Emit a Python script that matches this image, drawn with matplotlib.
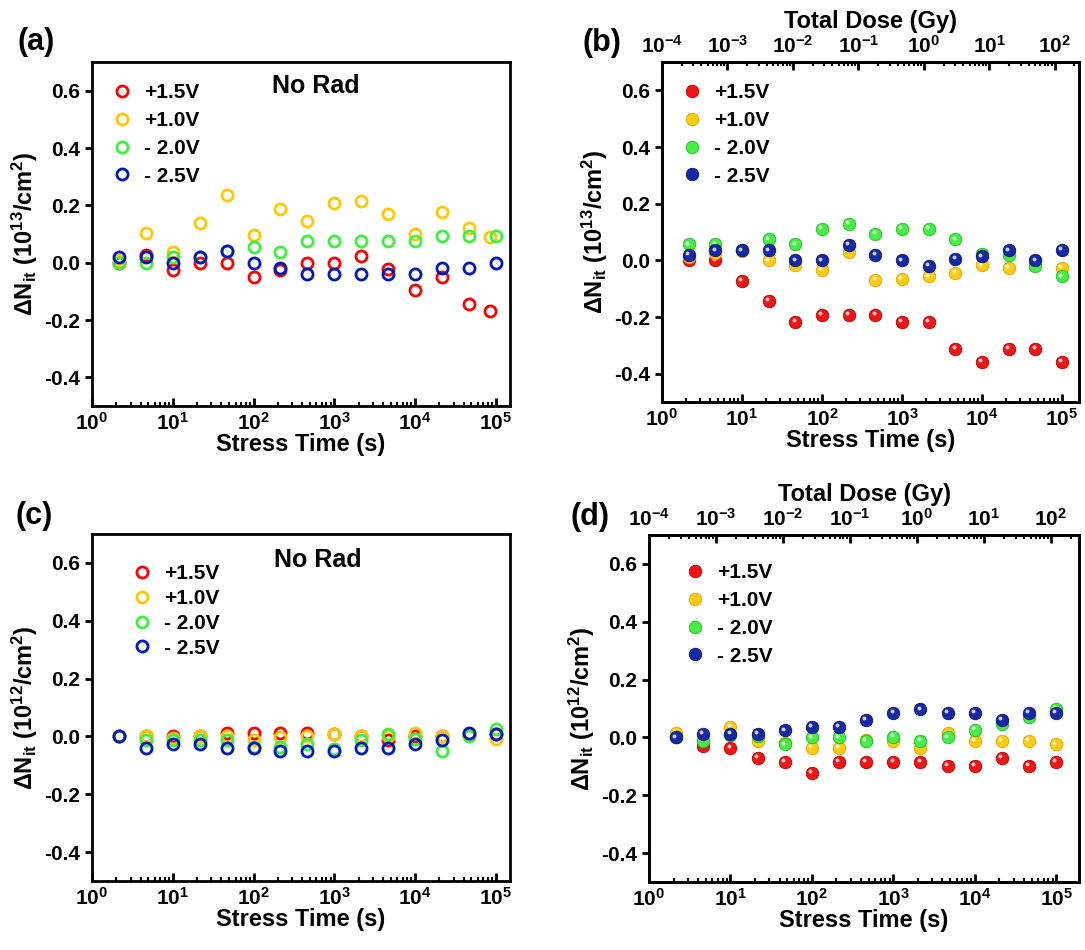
import matplotlib
matplotlib.use("Agg")
import matplotlib.pyplot as plt
from matplotlib.transforms import ScaledTranslation

plt.rcParams['font.family'] = ['Liberation Sans', 'DejaVu Sans']
plt.rcParams['font.weight'] = 'bold'
plt.rcParams['axes.unicode_minus'] = False
plt.rcParams['mathtext.fontset'] = 'custom'
plt.rcParams['mathtext.rm'] = 'Liberation Sans:bold'
plt.rcParams['mathtext.bf'] = 'Liberation Sans:bold'
plt.rcParams['mathtext.it'] = 'Liberation Sans:bold:italic'
plt.rcParams['mathtext.default'] = 'regular'

# stress times (s)
t = [2.15, 4.64, 10, 21.5, 46.4, 100, 215, 464, 1000, 2150, 4640, 10000, 21500, 46400, 100000]
# in (a) the +1.5V / +1.0V last reading was taken a bit earlier
t_a_pos = [2.15, 4.64, 10, 21.5, 46.4, 100, 215, 464, 1000, 2150, 4640, 10000, 21500, 46400, 85000]

labels = ['+1.5V', '+1.0V', '- 2.0V', '- 2.5V']

# (a) no rad, 1e13/cm2
a_p15 = [0.0, 0.026, -0.026, 0.0, 0.0, -0.049, -0.026, 0.0, 0.0, 0.023, -0.021, -0.095, -0.049, -0.144, -0.167]
a_p10 = [0.01, 0.102, 0.037, 0.137, 0.237, 0.095, 0.186, 0.145, 0.209, 0.216, 0.169, 0.1, 0.178, 0.12, 0.088]
a_m20 = [0.0, 0.0, 0.021, 0.019, 0.04, 0.056, 0.037, 0.074, 0.074, 0.074, 0.074, 0.074, 0.093, 0.093, 0.093]
a_m25 = [0.019, 0.019, 0.0, 0.019, 0.04, 0.0, -0.02, -0.04, -0.04, -0.04, -0.04, -0.04, -0.02, -0.02, 0.0]

# (b) irradiated, 1e13/cm2
b_p15 = [0.0, 0.0, -0.073, -0.144, -0.216, -0.192, -0.192, -0.192, -0.216, -0.216, -0.312, -0.359, -0.312, -0.312, -0.359]
b_p10 = [0.012, 0.025, 0.033, 0.0, -0.016, -0.035, 0.029, -0.07, -0.065, -0.057, -0.043, -0.018, -0.027, -0.012, -0.026]
b_m20 = [0.056, 0.056, 0.035, 0.074, 0.056, 0.11, 0.13, 0.094, 0.11, 0.11, 0.074, 0.022, 0.018, -0.02, -0.057]
b_m25 = [0.019, 0.035, 0.035, 0.035, 0.0, 0.0, 0.055, 0.018, 0.0, -0.019, 0.005, 0.014, 0.035, 0.0, 0.036]

# (c) no rad, 1e12/cm2
c_p15 = [0.0, 0.0, 0.0, 0.0, 0.012, 0.012, 0.012, 0.012, 0.01, 0.0, -0.014, 0.0, 0.0, 0.005, 0.01]
c_p10 = [0.0, 0.0, -0.005, 0.0, 0.0, -0.012, -0.002, 0.0, 0.009, 0.0, 0.0, 0.012, 0.0, 0.01, -0.008]
c_m20 = [0.0, -0.012, -0.012, -0.012, -0.012, -0.035, -0.037, -0.026, -0.045, -0.012, 0.009, -0.009, -0.049, 0.0, 0.027]
c_m25 = [0.0, -0.039, -0.027, -0.027, -0.039, -0.039, -0.05, -0.05, -0.05, -0.039, -0.039, -0.027, -0.014, 0.012, 0.009]

# (d) irradiated, 1e12/cm2
d_p15 = [0.0, -0.028, -0.036, -0.072, -0.086, -0.122, -0.086, -0.086, -0.086, -0.086, -0.098, -0.098, -0.072, -0.098, -0.086]
d_p10 = [0.016, -0.005, 0.037, -0.011, -0.02, -0.036, -0.036, -0.01, -0.011, -0.036, 0.014, -0.011, -0.011, -0.011, -0.024]
d_m20 = [0.0, -0.011, 0.01, 0.005, -0.024, 0.0, 0.0, -0.011, 0.002, -0.011, 0.0, 0.025, 0.048, 0.071, 0.099]
d_m25 = [0.0, 0.013, 0.011, 0.013, 0.024, 0.037, 0.037, 0.061, 0.084, 0.097, 0.084, 0.084, 0.061, 0.084, 0.084]

ring_colors = ['#ff0000', '#ffc800', '#3ef03e', '#0018b8']
ball_colors = ['#f21414', '#ffcc10', '#44ee44', '#1428a8']
ball_edges = ['#b00000', '#d9a000', '#22b822', '#0a1470']

fig = plt.figure(figsize=(10.85, 9.5), dpi=100)


def style_axes(ax, xmax, ylab):
    ax.set_xscale('log')
    ax.set_xlim(1, xmax)
    ax.set_ylim(-0.5, 0.7)
    ax.set_xticks([1, 10, 100, 1000, 10000, 100000])
    ax.set_yticks([-0.4, -0.2, 0.0, 0.2, 0.4, 0.6])
    ax.set_yticklabels(['-0.4', '-0.2', '0.0', '0.2', '0.4', '0.6'])
    for s in ax.spines.values():
        s.set_linewidth(2)
    ax.tick_params(axis='x', which='major', direction='in', length=6, width=2, labelsize=15, pad=4)
    ax.tick_params(axis='x', which='minor', direction='in', length=3, width=1.5)
    ax.tick_params(axis='y', which='major', direction='out', length=5, width=2, labelsize=15)
    ax.tick_params(axis='y', which='minor', left=False)
    ax.set_xlabel('Stress Time (s)', fontsize=17, fontweight='bold', labelpad=0)
    ax.set_ylabel(ylab, fontsize=17, fontweight='bold', labelpad=3)


def top_dose_axis(ax, dmax):
    top = ax.twiny()
    top.set_xscale('log')
    top.set_xlim(1e-4, dmax)
    top.set_xticks([1e-4, 1e-3, 1e-2, 1e-1, 1, 10, 100])
    top.tick_params(axis='x', which='major', direction='in', length=6, width=2, labelsize=15, pad=4)
    top.tick_params(axis='x', which='minor', direction='in', length=3, width=1.5)
    top.set_xlabel('Total Dose (Gy)', fontsize=17, fontweight='bold', labelpad=5)
    for s in top.spines.values():
        s.set_linewidth(2)


def open_panel(ax, series, times_list):
    for y, tt, c, lab in zip(series, times_list, ring_colors, labels):
        ax.plot(tt, y, 'o', ms=8, mfc='none', mec=c, mew=2.0, ls='none', label=lab)


def ball_panel(ax, series):
    shift = ax.transData + ScaledTranslation(-1.3 / 72, 1.3 / 72, fig.dpi_scale_trans)
    for y, c, ec, lab in zip(series, ball_colors, ball_edges, labels):
        ax.plot(t, y, 'o', ms=9, mfc=c, mec=ec, mew=0.6, ls='none', label=lab)
        ax.plot(t, y, 'o', ms=2.8, mfc='white', mec='none', alpha=0.8, ls='none', transform=shift)


ylab13 = r'ΔN$_{it}$ (10$^{13}$/cm$^{2}$)'
ylab12 = r'ΔN$_{it}$ (10$^{12}$/cm$^{2}$)'
leg_kw = dict(loc='upper left', frameon=False, fontsize=15, handlelength=1.0,
              handletextpad=0.55, borderpad=0.2)

# (a)
ax_a = fig.add_axes([92 / 1085, 1 - 406 / 950, 418 / 1085, 344 / 950])
open_panel(ax_a, [a_p15, a_p10, a_m20, a_m25], [t_a_pos, t_a_pos, t, t])
style_axes(ax_a, 1.5e5, ylab13)
ax_a.text(0.535, 0.93, 'No Rad', transform=ax_a.transAxes, fontsize=18, fontweight='bold', ha='center', va='center')
ax_a.legend(bbox_to_anchor=(0.012, 0.98), labelspacing=0.42, **leg_kw)

# (b)
ax_b = fig.add_axes([662 / 1085, 1 - 402 / 950, 417 / 1085, 340 / 950])
ball_panel(ax_b, [b_p15, b_p10, b_m20, b_m25])
style_axes(ax_b, 1.63e5, ylab13)
top_dose_axis(ax_b, 10 ** 2.37)
ax_b.legend(bbox_to_anchor=(0.012, 0.98), labelspacing=0.42, **leg_kw)

# (c)
ax_c = fig.add_axes([92 / 1085, 1 - 881 / 950, 418 / 1085, 347 / 950])
open_panel(ax_c, [c_p15, c_p10, c_m20, c_m25], [t, t, t, t])
style_axes(ax_c, 1.5e5, ylab12)
ax_c.text(0.54, 0.925, 'No Rad', transform=ax_c.transAxes, fontsize=18, fontweight='bold', ha='center', va='center')
ax_c.legend(bbox_to_anchor=(0.06, 0.955), labelspacing=0.28, **leg_kw)

# (d)
ax_d = fig.add_axes([649 / 1085, 1 - 882 / 950, 430 / 1085, 347 / 950])
ball_panel(ax_d, [d_p15, d_p10, d_m20, d_m25])
style_axes(ax_d, 1.9e5, ylab12)
top_dose_axis(ax_d, 10 ** 2.42)
ax_d.legend(bbox_to_anchor=(0.05, 0.96), labelspacing=0.42, **leg_kw)

# panel letters
for x, y, s in [(36, 42, '(a)'), (602, 43, '(b)'), (34, 516, '(c)'), (590, 517, '(d)')]:
    fig.text(x / 1085, 1 - y / 950, s, fontsize=22, fontweight='bold', ha='center', va='center')

fig.savefig('out.png', dpi=100)
